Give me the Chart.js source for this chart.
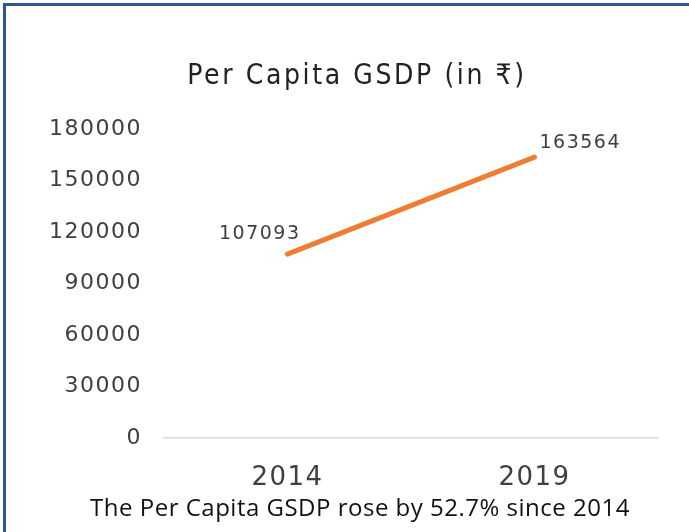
<!DOCTYPE html>
<html>
<head>
<meta charset="utf-8">
<script src="https://cdn.jsdelivr.net/npm/chart.js@4"></script>
<style>
  html, body { margin: 0; padding: 0; background: #fff; }
  #wrap { position: relative; width: 689px; height: 532px; overflow: hidden; }
  #frame { position: absolute; left: 3px; top: 3px; right: -10px; bottom: -10px;
           border-top: 3px solid #2F5597; border-left: 3px solid #2F5597; }
  #title { position: absolute; left: 0; width: 714px; top: 58px; text-align: center;
           font-family: "DejaVu Sans Condensed", "DejaVu Sans", sans-serif; font-size: 28px;
           letter-spacing: 2.6px; color: #222; }
  #caption { position: absolute; left: 0; width: 720px; top: 490px; text-align: center;
             font-family: "Open Sans", sans-serif; font-size: 24px; letter-spacing: 0.5px; color: #111; }
  canvas { position: absolute; left: 0; top: 0; }
</style>
</head>
<body>
<div id="wrap">
  <div id="frame"></div>
  <canvas id="gsdpChart" width="689" height="532"></canvas>
  <div id="title">Per Capita GSDP (in ₹)</div>
  <div id="caption">The Per Capita GSDP rose by 52.7% since 2014</div>
</div>
<script>
const categories = ['2014', '2019'];
const perCapitaGsdp = [107093, 163564];
const yMin = 0;
const yMax = 180000;
const yStep = 30000;

document.addEventListener("DOMContentLoaded", () => {
  const gsdpChart = document.getElementById('gsdpChart');

  // draws the values next to each point, like the Excel data labels
  const valueLabels = {
    id: 'valueLabels',
    afterDatasetsDraw(chart, args, opts) {
      const ctx = chart.ctx;
      const meta = chart.getDatasetMeta(0);
      ctx.save();
      ctx.font = opts.font;
      ctx.fillStyle = opts.color;
      ctx.textBaseline = 'middle';
      meta.data.forEach((pt, i) => {
        const place = opts.placement[i];
        ctx.textAlign = place.align;
        ctx.fillText(String(chart.data.datasets[0].data[i]), pt.x + place.dx, pt.y + place.dy);
      });
      ctx.restore();
    }
  };

  const spacing = {
    id: 'spacing',
    beforeDraw(chart) {
      chart.ctx.letterSpacing = '1.5px';
    }
  };

  new Chart(gsdpChart, {
    type: 'line',
    data: {
      labels: categories,
      datasets: [{
        data: perCapitaGsdp,
        borderColor: '#ED7D31',
        borderWidth: 5,
        borderCapStyle: 'round',
        pointRadius: 0,
        pointHoverRadius: 0,
        tension: 0
      }]
    },
    options: {
      responsive: false,
      animation: false,
      layout: {
        padding: { left: 20, right: 31, top: 129, bottom: 21 }
      },
      scales: {
        x: {
          offset: true,
          grid: { display: false },
          border: { display: true, color: '#d9d9d9', width: 1.5 },
          ticks: {
            padding: 17,
            color: '#404040',
            font: { family: 'DejaVu Sans', size: 26 }
          }
        },
        y: {
          min: yMin,
          max: yMax,
          grid: { display: false },
          border: { display: false },
          afterFit(scale) { scale.width = 144; },
          ticks: {
            stepSize: yStep,
            padding: 14,
            color: '#404040',
            font: { family: 'DejaVu Sans', size: 22 },
            callback: (v) => String(v)
          }
        }
      },
      plugins: {
        legend: { display: false },
        tooltip: { enabled: false },
        title: { display: false },
        valueLabels: {
          font: '19px "DejaVu Sans"',
          color: '#404040',
          placement: [
            { align: 'right', dx: 13, dy: -20 },
            { align: 'left', dx: 5, dy: -14 }
          ]
        }
      }
    },
    plugins: [spacing, valueLabels]
  });
});
</script>
</body>
</html>
